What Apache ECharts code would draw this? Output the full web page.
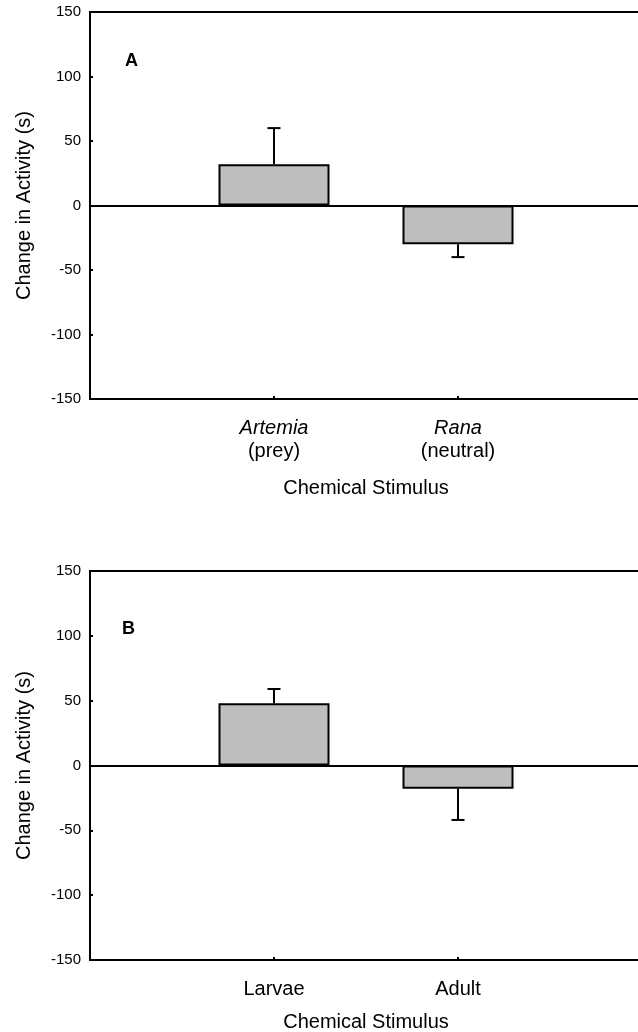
<!DOCTYPE html>
<html>
<head>
<meta charset="utf-8">
<script src="https://cdn.jsdelivr.net/npm/echarts@6.0.0/dist/echarts.min.js"></script>
<style>
  html, body { margin: 0; padding: 0; background: #fff; }
  #chart { width: 638px; height: 1032px; }
</style>
</head>
<body>
<div id="chart"></div>
<script>
// panel A
const catsA = ['Artemia', 'Rana'];
const subA = ['(prey)', '(neutral)'];
const meanA = [32, -30];
const errA = [28, 10];
// panel B
const catsB = ['Larvae', 'Adult'];
const meanB = [48, -18];
const errB = [11, 24];
// x positions of the two groups
const xPos = [1, 2];

const FONT = '"Liberation Sans", Arial, Helvetica, sans-serif';

function barData(means) {
  return means.map((v, i) => [xPos[i], v]);
}
function errData(means, errs) {
  return means.map((v, i) => [xPos[i], v, errs[i]]);
}

// one-sided error bar, away from zero
function errItem(params, api) {
  const x = api.value(0), m = api.value(1), e = api.value(2);
  const end = m >= 0 ? m + e : m - e;
  const p0 = api.coord([x, m]);
  const p1 = api.coord([x, end]);
  const st = { stroke: '#000', lineWidth: 2 };
  return {
    type: 'group',
    children: [
      { type: 'line', shape: { x1: p0[0], y1: p0[1], x2: p1[0], y2: p1[1] }, style: st },
      { type: 'line', shape: { x1: p1[0] - 6.5, y1: p1[1], x2: p1[0] + 6.5, y2: p1[1] }, style: st }
    ]
  };
}

function xAxisFor(idx, formatter, nameGap) {
  return {
    type: 'value',
    gridIndex: idx,
    min: 0,
    max: 3,
    position: 'bottom',
    name: 'Chemical Stimulus',
    nameLocation: 'middle',
    nameGap: nameGap,
    nameTextStyle: { fontSize: 20, color: '#000', fontFamily: FONT },
    axisLine: { onZero: false, lineStyle: { color: '#000', width: 2 } },
    axisTick: { inside: true, length: 3, customValues: xPos, lineStyle: { color: '#000', width: 2 } },
    axisLabel: {
      customValues: xPos,
      margin: 18,
      color: '#000',
      fontSize: 20,
      fontFamily: FONT,
      lineHeight: 23,
      formatter: formatter,
      rich: {
        it: { fontStyle: 'italic', fontSize: 20, lineHeight: 23, fontFamily: FONT, color: '#000' },
        n: { fontSize: 20, lineHeight: 23, fontFamily: FONT, color: '#000' }
      }
    },
    splitLine: { show: false }
  };
}

function yAxisFor(idx) {
  return {
    type: 'value',
    gridIndex: idx,
    min: -150,
    max: 150,
    interval: 50,
    name: 'Change in Activity (s)',
    nameLocation: 'middle',
    nameGap: 56,
    nameTextStyle: { fontSize: 20, color: '#000', fontFamily: FONT },
    axisLine: { show: true, lineStyle: { color: '#000', width: 2 } },
    axisTick: { inside: true, length: 3, lineStyle: { color: '#000', width: 2 } },
    axisLabel: { margin: 9, fontSize: 15, color: '#000', fontFamily: FONT },
    splitLine: { show: false }
  };
}

function barSeries(idx, means) {
  return {
    type: 'bar',
    xAxisIndex: idx,
    yAxisIndex: idx,
    barWidth: 111,
    data: barData(means),
    itemStyle: { color: '#bebebe', borderColor: '#000', borderWidth: 2 },
    markLine: {
      silent: true,
      symbol: 'none',
      label: { show: false },
      lineStyle: { color: '#000', width: 2, type: 'solid' },
      data: [{ yAxis: 0 }]
    },
    z: 2
  };
}

function errSeries(idx, means, errs) {
  return {
    type: 'custom',
    xAxisIndex: idx,
    yAxisIndex: idx,
    renderItem: errItem,
    data: errData(means, errs),
    z: 3
  };
}

const option = {
  animation: false,
  backgroundColor: '#fff',
  title: [
    { text: 'A', left: 120, top: 47, textStyle: { fontSize: 18, fontWeight: 'bold', color: '#000', fontFamily: FONT } },
    { text: 'B', left: 117, top: 615, textStyle: { fontSize: 18, fontWeight: 'bold', color: '#000', fontFamily: FONT } }
  ],
  // frame runs just past the right edge of the page, as in the source figure
  grid: [
    { left: 90, top: 12, right: -4, height: 387, outerBoundsMode: 'none', containLabel: false,
      show: true, borderColor: '#000', borderWidth: 2 },
    { left: 90, top: 571, right: -4, height: 389, outerBoundsMode: 'none', containLabel: false,
      show: true, borderColor: '#000', borderWidth: 2 }
  ],
  xAxis: [
    xAxisFor(0, function (v) {
      const i = xPos.indexOf(v);
      return '{it|' + catsA[i] + '}\n{n|' + subA[i] + '}';
    }, 79),
    xAxisFor(1, function (v) {
      const i = xPos.indexOf(v);
      return catsB[i];
    }, 52)
  ],
  yAxis: [yAxisFor(0), yAxisFor(1)],
  series: [
    barSeries(0, meanA),
    errSeries(0, meanA, errA),
    barSeries(1, meanB),
    errSeries(1, meanB, errB)
  ]
};

const chart = echarts.init(document.getElementById('chart'));
chart.setOption(option);
</script>
</body>
</html>
